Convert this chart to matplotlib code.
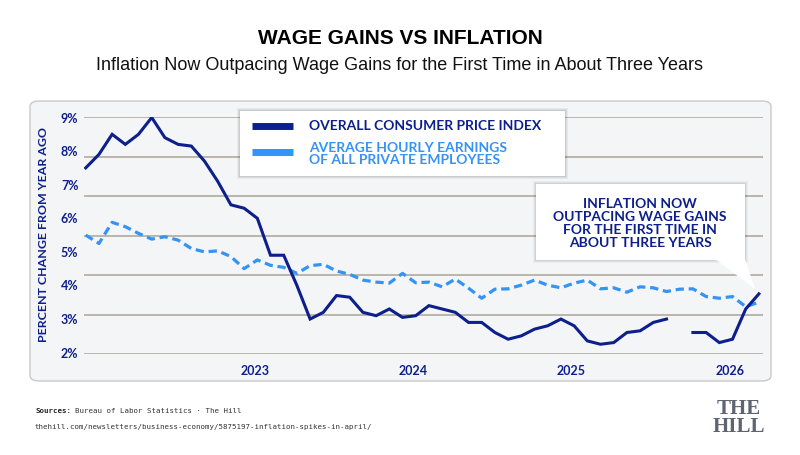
import matplotlib
matplotlib.use('Agg')
import matplotlib.pyplot as plt
from matplotlib.patches import FancyBboxPatch, Polygon
import numpy as np

# Datos (variación interanual, %), ene 2022 -> abr 2026
meses = list(range(52))
ipc = [7.5, 7.9, 8.5, 8.2, 8.5, 9.0, 8.4, 8.2, 8.15, 7.7, 7.1, 6.4,
       6.3, 6.0, 4.9, 4.9, 4.0, 3.0, 3.2, 3.7, 3.65, 3.2, 3.1, 3.3,
       3.05, 3.1, 3.4, 3.3, 3.2, 2.9, 2.9, 2.6, 2.4, 2.5, 2.7, 2.8,
       3.0, 2.8, 2.35, 2.25, 2.3, 2.6, 2.65, 2.9, 3.0, np.nan, 2.6, 2.6,
       2.3, 2.4, 3.3, 3.75]
salarios = [5.5, 5.25, 5.88, 5.75, 5.55, 5.38, 5.45, 5.35, 5.1, 5.0, 5.03, 4.86,
            4.5, 4.76, 4.6, 4.54, 4.36, 4.59, 4.63, 4.43, 4.33, 4.16, 4.1, 4.07,
            4.36, 4.08, 4.1, 3.96, 4.19, 3.92, 3.62, 3.89, 3.9, 4.01, 4.16, 4.01,
            3.93, 4.07, 4.16, 3.9, 3.93, 3.8, 3.96, 3.93, 3.82, 3.89, 3.9, 3.67,
            3.62, 3.67, 3.37, 3.5]
anos_pos = [12.8, 24.8, 36.8, 48.8]
anos_txt = ["2023", "2024", "2025", "2026"]
y_ticks = [2, 3, 4, 5, 6, 7, 8, 9]

AZUL = "#0d1f8c"
CELESTE = "#3393f7"
W, H = 800, 455
MONO = "DejaVu Sans Mono"


def fx(x):
    return x / W


def fy(y):
    return 1 - y / H


fig = plt.figure(figsize=(8, 4.55), dpi=100)
fig.patch.set_facecolor("white")

# Títulos
fig.text(0.5, fy(38), "WAGE GAINS VS INFLATION", ha="center", va="center",
         fontsize=15, fontweight="bold", family="Liberation Sans", color="black")
fig.text(0.5, fy(66), "Inflation Now Outpacing Wage Gains for the First Time in About Three Years",
         ha="center", va="center", fontsize=13, family="Liberation Sans", color="#111111")

# Panel de fondo
panel = FancyBboxPatch((fx(30), fy(381)), fx(741), (381 - 101) / H,
                       boxstyle="round,pad=0,rounding_size=0.012",
                       transform=fig.transFigure, facecolor="#f4f5f7",
                       edgecolor="#c9c9c9", linewidth=1.0, zorder=-1)
fig.patches.append(panel)

ax = fig.add_axes([fx(84), fy(354), fx(679), (354 - 117) / H])
ax.set_zorder(1)
ax.set_facecolor("none")
for s in ax.spines.values():
    s.set_visible(False)
ax.set_xlim(-0.13, 51.31)
ax.set_ylim(1.96, 9.015)

# Líneas de la cuadrícula (7 líneas repartidas)
for f in np.linspace(0, 1, 7):
    ax.plot([0, 1], [f, f], transform=ax.transAxes, color="#bbb6ab", lw=1.4,
            zorder=1, solid_capstyle="butt")

ax.plot(meses, salarios, color=CELESTE, lw=2.3, linestyle=(0, (2.6, 1.5)), zorder=3)
ax.plot(meses, ipc, color=AZUL, lw=2.2, zorder=4, solid_joinstyle="miter")

ax.set_yticks(y_ticks)
ax.set_yticklabels([f"{v}%" for v in y_ticks])
ax.set_xticks(anos_pos)
ax.set_xticklabels(anos_txt)
ax.tick_params(length=0)
ax.tick_params(axis="y", pad=4)
ax.tick_params(axis="x", pad=8)
for lab in ax.get_xticklabels() + ax.get_yticklabels():
    lab.set_fontfamily("Lato")
    lab.set_fontweight("bold")
    lab.set_color(AZUL)
    lab.set_fontsize(9)

fig.text(fx(44), fy(234), "PERCENT CHANGE FROM YEAR AGO", rotation=90, ha="center",
         va="center", fontsize=8.9, fontweight="bold", family="Lato", color=AZUL)

# Leyenda
for d, a in [(3, 0.05), (2, 0.06), (1, 0.07)]:
    sh = FancyBboxPatch((fx(240 - d), fy(176 + d)), fx(325 + 2 * d), (65 + 2 * d) / H,
                        boxstyle="square,pad=0", transform=fig.transFigure,
                        facecolor="#000000", alpha=a, edgecolor="none", zorder=5)
    fig.patches.append(sh)
leg = FancyBboxPatch((fx(240), fy(176)), fx(325), 65 / H, boxstyle="square,pad=0",
                     transform=fig.transFigure, facecolor="white", edgecolor="none", zorder=6)
fig.patches.append(leg)
fig.lines.append(plt.Line2D([fx(252), fx(293)], [fy(126), fy(126)], transform=fig.transFigure,
                            color=AZUL, lw=5, solid_capstyle="butt", zorder=7))
fig.lines.append(plt.Line2D([fx(252), fx(293)], [fy(152), fy(152)], transform=fig.transFigure,
                            color=CELESTE, lw=5, solid_capstyle="butt", zorder=7))
fig.text(fx(309), fy(126.5), "OVERALL CONSUMER PRICE INDEX", ha="left", va="center",
         fontsize=10, fontweight="bold", family="Lato", color=AZUL, zorder=8)
fig.text(fx(309), fy(154), "AVERAGE HOURLY EARNINGS\nOF ALL PRIVATE EMPLOYEES", ha="left",
         va="center", fontsize=10, fontweight="bold", family="Lato", color=CELESTE,
         linespacing=1.0, zorder=8)

# Cuadro de anotación con flecha
for d, a in [(3, 0.04), (2, 0.05), (1, 0.06)]:
    sh = FancyBboxPatch((fx(536 - d), fy(260 + d)), fx(209 + 2 * d), (76 + 2 * d) / H,
                        boxstyle="square,pad=0", transform=fig.transFigure,
                        facecolor="#000000", alpha=a, edgecolor="none", zorder=5)
    fig.patches.append(sh)
caja = FancyBboxPatch((fx(536), fy(260)), fx(209), 76 / H, boxstyle="square,pad=0",
                      transform=fig.transFigure, facecolor="white", edgecolor="none", zorder=6)
fig.patches.append(caja)
punta = Polygon([(fx(715), fy(259)), (fx(745), fy(259)), (fx(755), fy(289))], closed=True,
                transform=fig.transFigure, facecolor="white", edgecolor="none", zorder=6)
fig.patches.append(punta)
fig.text(fx(640), fy(223), "INFLATION NOW\nOUTPACING WAGE GAINS\nFOR THE FIRST TIME IN\nABOUT THREE YEARS",
         ha="center", va="center", fontsize=10, fontweight="bold", family="Lato",
         color=AZUL, linespacing=1.1, zorder=8)

# Fuentes
t1 = fig.text(fx(35), fy(411), "Sources:", ha="left", va="center", fontsize=5.3,
              fontweight="bold", family=MONO, color="#222222")
fig.canvas.draw()
bb = t1.get_window_extent()
fig.text(bb.x1 / W + fx(4), fy(411), "Bureau of Labor Statistics \u00b7 The Hill", ha="left",
         va="center", fontsize=5.3, family=MONO, color="#333333")
fig.text(fx(35), fy(427), "thehill.com/newsletters/business-economy/5875197-inflation-spikes-in-april/",
         ha="left", va="center", fontsize=5.3, family=MONO, color="#333333")

fig.text(fx(739), fy(418), "THE\nHILL", ha="center", va="center", fontsize=15,
         fontweight="bold", family="Liberation Serif", color="#5f6472", linespacing=0.8)

fig.savefig("out.png", dpi=100, facecolor="white")
